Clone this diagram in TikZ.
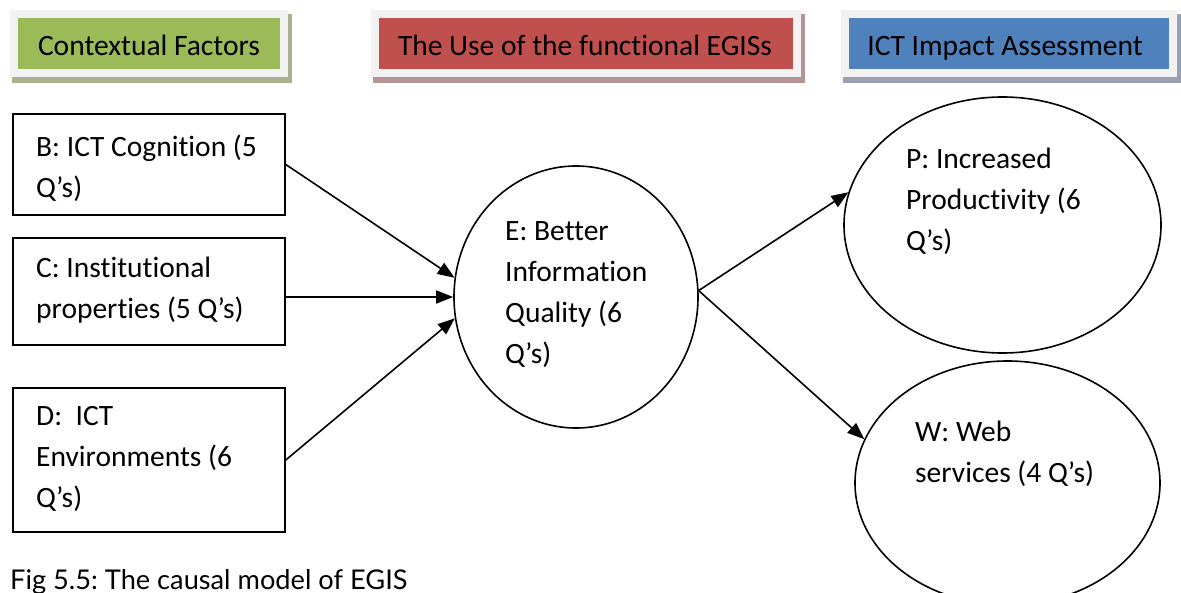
\documentclass[tikz,border=0pt]{standalone}
\usepackage{fontspec}
\setmainfont{Carlito}[Ligatures=NoCommon]
\newfontfamily\capfont{Lato}
\usetikzlibrary{shapes.geometric,arrows.meta,calc}

\definecolor{hdgreen}{HTML}{9BBB59}
\definecolor{hdred}{HTML}{C0504D}
\definecolor{hdblue}{HTML}{4F81BD}
\definecolor{shgreen}{HTML}{A9B190}
\definecolor{shred}{HTML}{B49494}
\definecolor{shblue}{HTML}{98A0B2}
\definecolor{hdframe}{HTML}{F2F2F2}

\tikzset{
  body/.style={font=\fontsize{29.5}{41}\selectfont\frenchspacing},
  factor/.style={draw, line width=1.6pt, rectangle, inner sep=0pt},
  construct/.style={draw, line width=1.6pt, ellipse, inner sep=0pt},
  txt/.style={body, anchor=base west, inner sep=0pt, text width=300pt, align=flush left},
  heading/.style={font=\fontsize{29.5}{34}\selectfont, anchor=base, inner sep=0pt},
  link/.style={line width=1.6pt, -{Triangle[length=17pt,width=13pt]}},
}

% header banner: shadow, pale frame and coloured face
\newcommand{\banner}[6]{%
  \fill[#6] (#1+2,#2+4) rectangle (#3+4,#4+6);
  \fill[hdframe] (#1,#2) rectangle (#3,#4);
  \fill[#5] (#1+8,#2+8) rectangle (#3-8,#4-8);
}

\begin{document}
\begin{tikzpicture}[x=1pt,y=-1pt]
\useasboundingbox (0,0) rectangle (1181,593);

% headers
\banner{10}{10}{288}{77}{hdgreen}{shgreen}
\node[heading] (hctx) at (149,56) {Contextual Factors};
\banner{371}{10}{801}{77}{hdred}{shred}
\node[heading] (huse) at (585,56) {The Use of the functional EGISs};
\banner{841}{10}{1177}{77}{hdblue}{shblue}
\node[heading] (himp) at (1005,56) {ICT Impact Assessment};

% contextual factors
\node[factor, minimum width=272pt, minimum height=101pt] (B) at (149,164.5) {};
\node[txt] (Bt) at (36,157) {B: ICT Cognition (5\\Q’s)};
\node[factor, minimum width=272pt, minimum height=107pt] (C) at (149,291.5) {};
\node[txt] (Ct) at (36,278) {C: Institutional\\properties (5 Q’s)};
\node[factor, minimum width=272pt, minimum height=144pt] (D) at (149,460) {};
\node[txt] (Dt) at (36,425) {D:\ \ ICT\\Environments (6\\Q’s)};

% mediating construct
\node[construct, minimum width=244pt, minimum height=262pt] (E) at (576,297) {};
\node[txt] (Et) at (505,241) {E: Better\\Information\\Quality (6\\Q’s)};

% impacts
\node[construct, minimum width=317pt, minimum height=256pt] (P) at (1002.5,225) {};
\node[txt] (Pt) at (906,169) {P: Increased\\Productivity (6\\Q’s)};
\node[construct, minimum width=305pt, minimum height=244pt] (W) at (1007.5,483) {};
\node[txt] (Wt) at (915,442) {W: Web\\services (4 Q’s)};

% causal links
\draw[link] (B.east) -- (E.171);
\draw[link] (C.east |- E.west) -- (E.west);
\draw[link] (D.east) -- (E.190);
\draw[link] (E.3) -- (P.168);
\draw[link] (E.3) -- (W.163);

% caption
\node[anchor=base west, inner sep=0pt, font=\capfont\fontsize{27.2}{30}\selectfont\frenchspacing] (cap) at (10,589) {Fig 5.5: The causal model of EGIS};
\end{tikzpicture}
\end{document}
